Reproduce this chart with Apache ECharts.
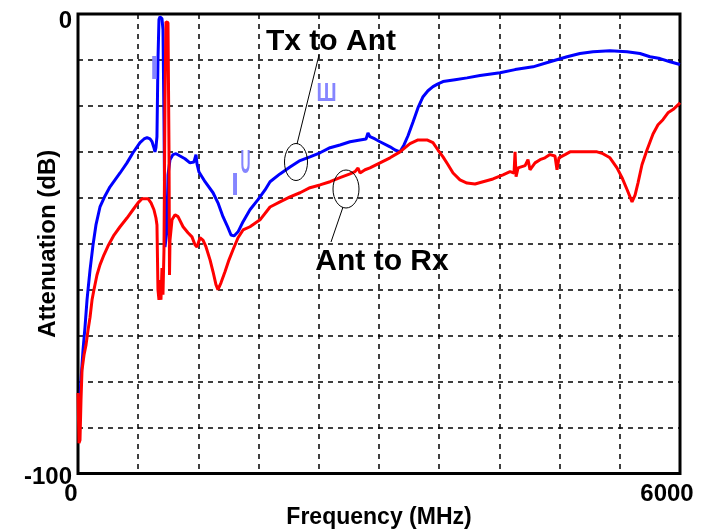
<!DOCTYPE html>
<html>
<head>
<meta charset="utf-8">
<script src="https://cdn.jsdelivr.net/npm/echarts@6/dist/echarts.min.js"></script>
<style>
html,body{margin:0;padding:0;background:#fff;}
#chart{width:715px;height:530px;}
</style>
</head>
<body>
<div id="chart"></div>
<script>
// Tx to Ant (blue)
const freqTx = [10,30,50,70,90,100,120,150,179,219,269,319,369,419,488,548,618,658,688,718,738,757,767,777,787,797,807,817,837,847,857,867,877,887,897,917,947,977,1017,1066,1116,1156,1176,1186,1206,1266,1346,1395,1445,1495,1525,1555,1595,1645,1714,1794,1864,1914,2013,2113,2213,2312,2412,2512,2611,2711,2811,2871,2890,2910,2960,3010,3110,3160,3209,3249,3289,3339,3389,3439,3488,3538,3588,3638,3758,3877,4007,4206,4356,4535,4704,4874,5003,5133,5302,5472,5601,5701,5801,5900,6000];
const attTx = [-86.4,-79.6,-73.1,-68.1,-62.2,-60.0,-55.7,-50.2,-45.9,-42.0,-39.6,-37.6,-36.1,-34.6,-32.4,-30.2,-28.0,-27.2,-26.9,-27.2,-27.8,-29.1,-30.0,-29.1,-26.7,-10.0,-1.2,-0.6,-1.0,-3.4,-23.0,-50.7,-50.7,-47.0,-35.0,-31.7,-30.6,-30.4,-30.9,-31.5,-32.4,-32.2,-30.6,-32.6,-34.4,-36.5,-38.9,-41.1,-44.1,-46.5,-48.1,-48.3,-47.4,-45.2,-42.6,-40.4,-38.3,-36.5,-34.8,-33.3,-31.9,-31.1,-30.2,-29.1,-28.5,-27.8,-27.4,-27.2,-25.9,-26.7,-27.2,-27.8,-28.9,-29.6,-30.0,-28.5,-26.5,-23.5,-20.4,-18.0,-16.7,-15.8,-15.2,-14.7,-14.3,-13.9,-13.4,-12.8,-12.1,-11.5,-10.4,-9.3,-8.6,-8.2,-8.0,-8.2,-8.6,-9.3,-9.7,-10.4,-11.0];

// Ant to Rx (red)
const freqRx = [0,10,20,30,40,60,80,100,120,140,159,189,219,259,299,359,419,488,548,598,638,698,728,757,777,787,797,807,817,827,837,847,857,867,877,897,907,912,917,937,967,997,1047,1096,1136,1166,1186,1216,1246,1276,1316,1346,1375,1395,1425,1465,1505,1545,1595,1645,1714,1814,1914,2013,2113,2213,2312,2412,2512,2611,2711,2761,2791,2811,2861,2910,3010,3110,3209,3309,3389,3478,3538,3588,3638,3688,3738,3807,3877,3957,4037,4136,4236,4306,4346,4356,4366,4386,4456,4485,4505,4555,4605,4654,4704,4754,4774,4794,4854,4904,5003,5173,5232,5302,5372,5422,5472,5502,5522,5552,5581,5621,5671,5731,5781,5830,5880,5930,5980,6000];
const attRx = [-82.5,-93.4,-92.7,-84.0,-77.5,-74.2,-72.0,-68.8,-66.0,-62.2,-60.0,-56.8,-54.6,-52.4,-50.5,-48.1,-46.3,-44.4,-42.6,-41.1,-40.2,-40.2,-41.1,-42.6,-44.4,-45.9,-60.0,-62.2,-57.9,-62.2,-55.3,-61.1,-51.3,-18.7,-1.7,-1.9,-29.6,-56.8,-49.2,-44.8,-43.7,-44.1,-46.3,-47.6,-48.5,-50.2,-50.7,-48.7,-49.2,-50.7,-53.5,-56.1,-58.9,-60.0,-58.5,-56.1,-53.5,-51.3,-48.7,-47.0,-46.3,-44.8,-42.0,-40.9,-39.8,-38.9,-37.8,-37.2,-36.5,-35.6,-34.8,-34.3,-33.5,-34.6,-33.9,-33.5,-32.4,-31.3,-30.0,-28.2,-27.4,-27.4,-28.0,-29.6,-31.1,-32.8,-34.6,-36.1,-36.8,-37.0,-36.5,-35.9,-35.0,-34.3,-34.6,-30.0,-35.4,-33.5,-33.0,-31.7,-33.9,-32.4,-31.7,-31.3,-30.6,-30.9,-33.9,-31.3,-30.6,-30.0,-30.0,-30.0,-30.4,-31.3,-33.5,-35.6,-38.2,-39.8,-40.9,-39.4,-36.8,-32.8,-29.6,-26.1,-24.1,-23.0,-21.5,-20.8,-19.8,-19.3];

const xTickLabels = {0: '0', 6000: '6000'};
const yTickLabels = {0: '0', '-100': '-100'};
const xTitle = 'Frequency (MHz)';
const yTitle = 'Attenuation (dB)';
const txLabel = 'Tx to Ant';
const rxLabel = 'Ant to Rx';

const FONT = 'Liberation Sans, Arial, sans-serif';
const zip = (a, b) => a.map((v, i) => [v, b[i]]);

const chart = echarts.init(document.getElementById('chart'), null, {renderer: 'canvas'});
const glyphColor = '#8585ff';

chart.setOption({
  backgroundColor: '#ffffff',
  animation: false,
  grid: {left: 78, right: 35, top: 14, bottom: 56.5, containLabel: false, outerBoundsMode: 'none',
         show: true, borderColor: '#000', borderWidth: 3, backgroundColor: 'transparent'},
  xAxis: {
    type: 'value', min: 0, max: 6000, interval: 600,
    name: xTitle, nameLocation: 'middle', nameGap: 33, nameMoveOverlap: false,
    nameTextStyle: {fontFamily: FONT, fontWeight: 'bold', fontSize: 23, color: '#000'},
    axisLine: {show: false}, axisTick: {show: false},
    splitLine: {show: true, lineStyle: {color: '#000', width: 1.5, type: [5, 5]}},
    axisLabel: {
      margin: 9, fontFamily: FONT, fontWeight: 'bold', fontSize: 24, color: '#000',
      verticalAlign: 'top',
      formatter: v => v === 0 ? '{a|' + xTickLabels[0] + '}' : (v === 6000 ? '{b|' + xTickLabels[6000] + '}' : ''),
      rich: {
        a: {fontFamily: FONT, fontWeight: 'bold', fontSize: 24, color: '#000', padding: [0, 14, 0, 0]},
        b: {fontFamily: FONT, fontWeight: 'bold', fontSize: 24, color: '#000', padding: [0, 26, 0, 0]}
      }
    }
  },
  yAxis: {
    type: 'value', min: -100, max: 0, interval: 10,
    name: yTitle, nameLocation: 'middle', nameGap: 18, nameMoveOverlap: false,
    nameTextStyle: {fontFamily: FONT, fontWeight: 'bold', fontSize: 24, color: '#000'},
    axisLine: {show: false}, axisTick: {show: false},
    splitLine: {show: true, lineStyle: {color: '#000', width: 1.5, type: [5, 5]}},
    axisLabel: {
      margin: 6, fontFamily: FONT, fontWeight: 'bold', fontSize: 24, color: '#000',
      formatter: v => v === 0 ? '{t|' + yTickLabels[0] + '}' : (v === -100 ? '{b|' + yTickLabels['-100'] + '}' : ''),
      rich: {
        t: {fontFamily: FONT, fontWeight: 'bold', fontSize: 24, color: '#000', padding: [14, 0, 0, 0]},
        b: {fontFamily: FONT, fontWeight: 'bold', fontSize: 24, color: '#000', padding: [8, 0, 0, 0]}
      }
    }
  },
  series: [
    {name: txLabel, type: 'line', data: zip(freqTx, attTx), showSymbol: false, symbol: 'none',
     lineStyle: {color: '#0000ff', width: 3}, z: 3},
    {name: rxLabel, type: 'line', data: zip(freqRx, attRx), showSymbol: false, symbol: 'none',
     lineStyle: {color: '#ff0000', width: 3}, z: 4}
  ],
  graphic: [
    {type: 'text', x: 331, y: 42, z: 10, style: {text: txLabel, font: 'bold 30px ' + FONT, fill: '#000', align: 'center', verticalAlign: 'middle'}},
    {type: 'text', x: 382, y: 262, z: 10, style: {text: rxLabel, font: 'bold 30px ' + FONT, fill: '#000', align: 'center', verticalAlign: 'middle'}},
    {type: 'ellipse', z: 10, shape: {cx: 296, cy: 162, rx: 11.5, ry: 18.5}, style: {fill: null, stroke: '#000', lineWidth: 1}},
    {type: 'ellipse', z: 10, shape: {cx: 346, cy: 189, rx: 13, ry: 19}, style: {fill: null, stroke: '#000', lineWidth: 1}},
    {type: 'line', z: 10, shape: {x1: 297, y1: 144, x2: 319, y2: 55}, style: {stroke: '#000', lineWidth: 1}},
    {type: 'line', z: 10, shape: {x1: 343, y1: 207, x2: 331, y2: 242}, style: {stroke: '#000', lineWidth: 1}},
    {type: 'text', x: 154.5, y: 70, z: 5, scaleX: 0.9, style: {text: 'I', font: 'bold 33px ' + FONT, fill: glyphColor, align: 'center', verticalAlign: 'middle'}},
    {type: 'text', x: 235, y: 186, z: 5, scaleX: 0.85, style: {text: 'I', font: 'bold 32px ' + FONT, fill: glyphColor, align: 'center', verticalAlign: 'middle'}},
    {type: 'text', x: 245.5, y: 164, z: 5, scaleX: 0.42, style: {text: 'U', font: 'bold 33px ' + FONT, fill: glyphColor, align: 'center', verticalAlign: 'middle'}},
    {type: 'text', x: 326.5, y: 94, z: 5, scaleX: 0.8, style: {text: 'Ш', font: 'bold 25px ' + FONT, fill: glyphColor, align: 'center', verticalAlign: 'middle'}}
  ]
});
</script>
</body>
</html>
